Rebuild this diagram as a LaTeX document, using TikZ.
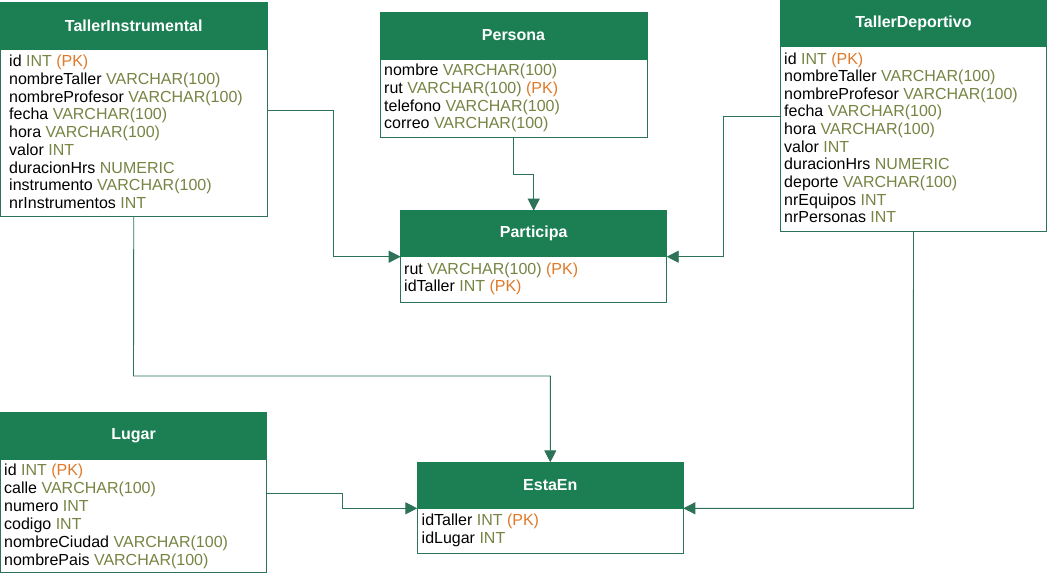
\documentclass[tikz,border=0pt]{standalone}
\usepackage{fontspec}
\setmainfont{Liberation Sans}
\usetikzlibrary{arrows.meta}
\definecolor{hdrgreen}{RGB}{27,127,83}
\definecolor{linegreen}{RGB}{45,115,88}
\definecolor{typec}{RGB}{118,132,68}
\definecolor{pkc}{RGB}{222,122,42}
\newcommand\dtype[1]{\textcolor{typec}{#1}}
\newcommand\pkey[1]{\textcolor{pkc}{#1}}
\tikzset{
  hdr/.style={draw=hdrgreen, fill=hdrgreen, text=white, line width=0.8pt,
    font=\fontsize{16}{18}\selectfont\bfseries, anchor=north west, inner sep=0pt, outer sep=0pt},
  tbody/.style={draw=linegreen, fill=white, line width=0.8pt, anchor=north west, inner sep=0pt, outer sep=0pt},
  fld/.style={anchor=base west, inner sep=0pt, font=\fontsize{16}{18}\selectfont, text=black},
  conn/.style={draw=linegreen, line width=0.9pt, -{Triangle[length=12pt,width=12pt]}, shorten >=0pt}
}
\begin{document}
\begin{tikzpicture}[x=1pt,y=-1pt]
\useasboundingbox (0,0) rectangle (1047,574);
\fill[white] (0,0) rectangle (1047,574);

% TallerInstrumental
\node[tbody, minimum width=266.5pt, minimum height=167pt] (tib) at (0.5,49.3) {};
\node[hdr, minimum width=266.5pt, minimum height=46.6pt] (ti) at (0.5,2.7) {TallerInstrumental};
\foreach \t [count=\i from 0] in {{id \dtype{INT} \pkey{(PK)}},{nombreTaller \dtype{VARCHAR(100)}},{nombreProfesor \dtype{VARCHAR(100)}},{fecha \dtype{VARCHAR(100)}},{hora \dtype{VARCHAR(100)}},{valor \dtype{INT}},{duracionHrs \dtype{NUMERIC}},{instrumento \dtype{VARCHAR(100)}},{nrInstrumentos \dtype{INT}}}
  \node[fld] (ti-f\i) at (9,{66.7+\i*17.75}) {\t};

% Persona
\node[tbody, minimum width=267pt, minimum height=78pt] (peb) at (380,59) {};
\node[hdr, minimum width=267pt, minimum height=47pt] (pe) at (380,12) {Persona};
\foreach \t [count=\i from 0] in {{nombre \dtype{VARCHAR(100)}},{rut \dtype{VARCHAR(100)} \pkey{(PK)}},{telefono \dtype{VARCHAR(100)}},{correo \dtype{VARCHAR(100)}}}
  \node[fld] (pe-f\i) at (384,{75.5+\i*17.75}) {\t};

% TallerDeportivo
\node[tbody, minimum width=265.5pt, minimum height=185pt] (tdb) at (780.7,46.7) {};
\node[hdr, minimum width=265.5pt, minimum height=46.2pt] (td) at (780.7,0.5) {TallerDeportivo};
\foreach \t [count=\i from 0] in {{id \dtype{INT} \pkey{(PK)}},{nombreTaller \dtype{VARCHAR(100)}},{nombreProfesor \dtype{VARCHAR(100)}},{fecha \dtype{VARCHAR(100)}},{hora \dtype{VARCHAR(100)}},{valor \dtype{INT}},{duracionHrs \dtype{NUMERIC}},{deporte \dtype{VARCHAR(100)}},{nrEquipos \dtype{INT}},{nrPersonas \dtype{INT}}}
  \node[fld] (td-f\i) at (784,{64+\i*17.65}) {\t};

% Participa
\node[tbody, minimum width=266pt, minimum height=45.3pt] (pab) at (400.7,256.7) {};
\node[hdr, minimum width=266pt, minimum height=46pt] (pa) at (400.7,210.7) {Participa};
\foreach \t [count=\i from 0] in {{rut \dtype{VARCHAR(100)} \pkey{(PK)}},{idTaller \dtype{INT} \pkey{(PK)}}}
  \node[fld] (pa-f\i) at (404,{274+\i*17.75}) {\t};

% Lugar
\node[tbody, minimum width=266.2pt, minimum height=113.7pt] (lub) at (0.5,459) {};
\node[hdr, minimum width=266.2pt, minimum height=46.7pt] (lu) at (0.5,412.3) {Lugar};
\foreach \t [count=\i from 0] in {{id \dtype{INT} \pkey{(PK)}},{calle \dtype{VARCHAR(100)}},{numero \dtype{INT}},{codigo \dtype{INT}},{nombreCiudad \dtype{VARCHAR(100)}},{nombrePais \dtype{VARCHAR(100)}}}
  \node[fld] (lu-f\i) at (4,{475.5+\i*18}) {\t};

% EstaEn
\node[tbody, minimum width=266pt, minimum height=45pt] (eeb) at (417.3,508.3) {};
\node[hdr, minimum width=266pt, minimum height=46pt] (ee) at (417.3,462.3) {EstaEn};
\foreach \t [count=\i from 0] in {{idTaller \dtype{INT} \pkey{(PK)}},{idLugar \dtype{INT}}}
  \node[fld] (ee-f\i) at (421.5,{525.5+\i*17.75}) {\t};

% connectors
\draw[conn] (tib.east |- 0,110.3) -- (333.3,110.3) -- (333.3,256.7) -- (pa.south west);
\draw[conn] (peb.south) -- (513.5,174) -- (533.7,174) -- (pa.north);
\draw[conn] (tdb.west |- 0,116) -- (723.3,116) -- (723.3,256.7) -- (pa.south east);
\draw[conn] (tib.south) -- (133.5,376) -- (550.3,376) -- (ee.north);
\draw[conn] (lub.east |- 0,493.3) -- (342.3,493.3) -- (342.3,508.3) -- (ee.south west);
\draw[conn] (tdb.south) -- (913.4,508.3) -- (ee.south east);
\end{tikzpicture}
\end{document}
